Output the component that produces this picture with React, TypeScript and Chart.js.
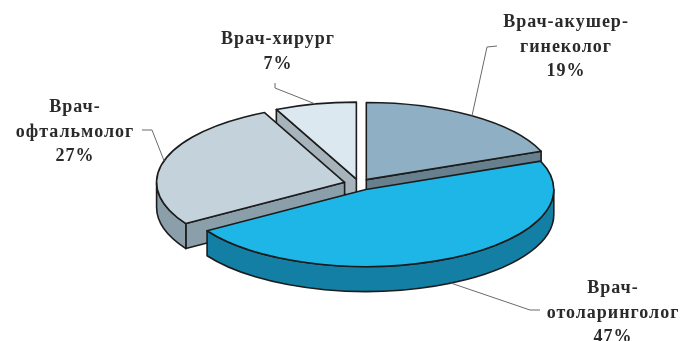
import React, { useEffect, useRef } from "react";
import { Chart, registerables } from "chart.js";

Chart.register(...registerables);

// ---- data ----
const categories = ["Врач-акушер-гинеколог", "Врач-отоларинголог", "Врач-офтальмолог", "Врач-хирург"];
const values = [19, 47, 27, 7];
const nameLines = [["Врач-акушер-", "гинеколог"], ["Врач-", "отоларинголог"], ["Врач-", "офтальмолог"], ["Врач-хирург"]];

// ---- styles ----
const topColors = ["#8fb0c4", "#1db6e7", "#c4d2db", "#dce8f0"];
const sideColors = ["#687f8e", "#137fa4", "#8b9faa", "#a7b3ba"];
const explode = [13, 15, 15, 12];

// label layout: centre x, first baseline y, leader elbow and end
const labelLayout = [
  { x: 566, y: 27, elbow: [487, 47], end: [497, 46] },
  { x: 613, y: 293, elbow: [530, 310], end: [540, 310] },
  { x: 75, y: 112, elbow: [152, 130], end: [142, 130] },
  { x: 278, y: 44, elbow: [275, 88], end: [275, 83] },
];

const pie3d = {
  id: "pie3d",
  beforeDatasetsDraw(chart: any, _args: any, opts: any) {
    const ctx: CanvasRenderingContext2D = chart.ctx;
    const k = opts.ratio;
    const depth = opts.depth;
    const meta = chart.getDatasetMeta(0);
    const arcs = meta.data.map((arc: any, i: number) => {
      const p = arc.getProps(["x", "y", "startAngle", "endAngle", "outerRadius"], true);
      const off = arc.options.offset || 0;
      const mid = (p.startAngle + p.endAngle) / 2;
      return {
        i,
        s: p.startAngle,
        e: p.endAngle,
        r: p.outerRadius,
        mid,
        ox: p.x + off * Math.cos(mid),
        oy: p.y + off * Math.sin(mid) * k,
      };
    });
    const order = [...arcs].sort((a, b) => Math.sin(a.mid) - Math.sin(b.mid));
    ctx.save();
    ctx.lineWidth = 1.6;
    ctx.strokeStyle = "#1c1c1c";
    ctx.lineJoin = "round";
    for (const a of order) {
      const ry = a.r * k;
      const ptx = (ang: number) => a.ox + a.r * Math.cos(ang);
      const pty = (ang: number) => a.oy + ry * Math.sin(ang);
      // radial walls
      const walls: number[] = [];
      if (Math.cos(a.s) < 0) walls.push(a.s);
      if (Math.cos(a.e) > 0) walls.push(a.e);
      for (const w of walls) {
        ctx.beginPath();
        ctx.moveTo(a.ox, a.oy);
        ctx.lineTo(ptx(w), pty(w));
        ctx.lineTo(ptx(w), pty(w) + depth);
        ctx.lineTo(a.ox, a.oy + depth);
        ctx.closePath();
        ctx.fillStyle = sideColors[a.i];
        ctx.fill();
        ctx.stroke();
      }
      // curved front wall
      const a0 = Math.max(a.s, 0);
      const a1 = Math.min(a.e, Math.PI);
      if (a1 > a0) {
        ctx.beginPath();
        ctx.ellipse(a.ox, a.oy, a.r, ry, 0, a0, a1, false);
        ctx.lineTo(ptx(a1), pty(a1) + depth);
        ctx.ellipse(a.ox, a.oy + depth, a.r, ry, 0, a1, a0, true);
        ctx.closePath();
        ctx.fillStyle = sideColors[a.i];
        ctx.fill();
        ctx.stroke();
      }
      // top face
      ctx.beginPath();
      ctx.moveTo(a.ox, a.oy);
      ctx.ellipse(a.ox, a.oy, a.r, ry, 0, a.s, a.e, false);
      ctx.closePath();
      ctx.fillStyle = topColors[a.i];
      ctx.fill();
      ctx.stroke();
    }
    ctx.restore();
    (chart as any).$pie3d = { arcs, k, depth };
    return false;
  },
  afterDraw(chart: any) {
    const st = (chart as any).$pie3d;
    if (!st) return;
    const ctx: CanvasRenderingContext2D = chart.ctx;
    const { arcs, k, depth } = st;
    ctx.save();
    // leader lines
    ctx.strokeStyle = "#6a6a6a";
    ctx.lineWidth = 1;
    for (const a of arcs) {
      const L = labelLayout[a.i];
      const sx = a.ox + a.r * Math.cos(a.mid);
      let sy = a.oy + a.r * k * Math.sin(a.mid);
      if (Math.sin(a.mid) > 0) sy += depth;
      ctx.beginPath();
      ctx.moveTo(sx, sy);
      ctx.lineTo(L.elbow[0], L.elbow[1]);
      ctx.lineTo(L.end[0], L.end[1]);
      ctx.stroke();
    }
    // labels
    ctx.fillStyle = "#2a2a2a";
    ctx.font = 'bold 18px "Liberation Serif", "DejaVu Serif", serif';
    (ctx as any).letterSpacing = "1px";
    ctx.textAlign = "center";
    ctx.textBaseline = "alphabetic";
    const total = values.reduce((s, v) => s + v, 0);
    for (const a of arcs) {
      const L = labelLayout[a.i];
      const lines = [...nameLines[a.i], Math.round((values[a.i] / total) * 100) + "%"];
      lines.forEach((t, j) => ctx.fillText(t, L.x, L.y + j * 24.5));
    }
    ctx.restore();
  },
};

export default function App() {
  const ref = useRef<HTMLCanvasElement>(null);
  useEffect(() => {
    if (!ref.current) return;
    const chart = new Chart(ref.current, {
      type: "pie",
      data: {
        labels: categories,
        datasets: [
          {
            data: values,
            backgroundColor: topColors,
            offset: explode,
            borderWidth: 0,
          } as any,
        ],
      },
      options: {
        responsive: false,
        animation: false,
        events: [],
        radius: 188,
        layout: { padding: { left: 37, right: 0, top: 27, bottom: 0 } },
        plugins: {
          legend: { display: false },
          tooltip: { enabled: false },
          pie3d: { ratio: 0.41, depth: 25 },
        } as any,
      } as any,
      plugins: [pie3d as any],
    });
    return () => chart.destroy();
  }, []);
  return (
    <div style={{ position: "absolute", left: 0, top: 0, width: 681, height: 341, background: "#fff" }}>
      <canvas ref={ref} width={681} height={341} />
    </div>
  );
}
